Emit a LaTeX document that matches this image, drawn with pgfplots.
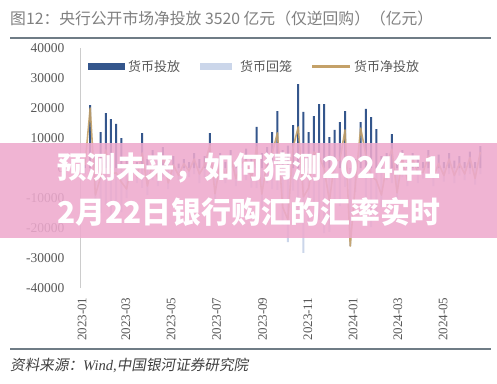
\documentclass[border=0pt]{standalone}
\usepackage{fontspec}
\usepackage{graphicx}
\setmainfont{Liberation Serif}
\newfontfamily\cjk{Noto Sans CJK SC}
\newfontfamily\cjksl{Noto Sans CJK SC}[FakeSlant=0.18]
\usepackage{pgfplots}
\usepackage{pgfplotstable}
\pgfplotsset{compat=1.18}
\definecolor{injc}{RGB}{52,86,140}
\definecolor{wdc}{RGB}{203,214,234}
\definecolor{netc}{RGB}{196,161,104}
\definecolor{rulec}{RGB}{111,124,134}
\definecolor{txtc}{RGB}{89,89,89}
\definecolor{titc}{RGB}{128,128,128}
\definecolor{bannerc}{RGB}{238,170,206}

\pgfplotstableread{
d inj wd net
4 3000 -2000 1000
11 21000 -1000 20000
18 4000 -13000 -9000
25 12000 -15000 -3000
32 18300 -12300 6000
39 16300 -18300 -2000
46 14700 -16300 -1600
53 10000 -14700 -4700
60 3000 -10000 -7000
67 5000 -3000 2000
74 2000 -5000 -3000
81 11600 -6600 5000
88 3000 -9000 -6000
95 6000 -4000 2000
102 2500 -6000 -3500
109 7000 -3000 4000
116 2000 -7000 -5000
123 4000 -3000 1000
130 1500 -4000 -2500
137 3000 -1500 1500
144 2000 -3000 -1000
151 5000 -2000 3000
158 3000 -5000 -2000
165 4000 -3000 1000
172 11600 -4000 7600
179 3000 -11600 -8600
186 5000 -3000 2000
193 2000 -5000 -3000
200 6000 -2000 4000
207 2500 -6000 -3500
214 4000 -2500 1500
221 6500 -4000 2500
228 3000 -6500 -3500
235 13700 -6700 7000
242 5000 -13700 -8700
249 7000 -5000 2000
256 12000 -7000 5000
263 19000 -7300 11700
270 6000 -19000 -13000
277 7500 -24700 -17200
284 14300 -7500 6800
291 28000 -14300 13700
298 18700 -28300 -9600
305 12000 -18700 -6700
312 17300 -12000 5300
319 21300 -17300 4000
326 21300 -21700 -400
333 10300 -21300 -11000
340 12700 -10300 2400
347 15300 -12700 2600
354 19000 -6300 12700
361 0 -26000 -26000
368 3000 -8000 -5000
375 15300 -2000 13300
382 19700 -15300 4400
389 17000 -19700 -2700
396 13000 -17000 -4000
403 4000 -13000 -9000
410 5000 -4000 1000
417 11300 -5000 6300
424 3000 -11300 -8300
431 6000 -3000 3000
438 2000 -6000 -4000
445 5000 -2000 3000
452 3500 -5000 -1500
459 2000 -3500 -1500
466 6000 -2000 4000
473 3000 -6000 -3000
480 4500 -3000 1500
487 2000 -4500 -2500
494 5000 -2000 3000
501 2500 -5000 -2500
508 4000 -2500 1500
515 2000 -4000 -2000
522 5500 -2000 3500
529 2000 -5500 -3500
536 7300 -2000 5300
}\omo

\begin{document}
\begin{tikzpicture}[x=1pt,y=1pt]
\path[use as bounding box] (0,0) rectangle (497,383);
\fill[white] (0,0) rectangle (497,383);
% title and rules
\node[anchor=west, text=titc, font=\cjk\fontsize{15.8}{18}\selectfont, inner sep=0] at (10,365) {图12：央行公开市场净投放 3520 亿元（仅逆回购）（亿元）};
\draw[rulec, line width=2pt] (10,345.3) -- (491,345.3);
\draw[rulec, line width=2pt] (10,34) -- (491,34);
\node[anchor=west, text=black!75, font=\fontsize{14.6}{16}\selectfont, inner sep=0] at (10,18) {{\cjksl 资料来源：}\textit{Wind,}{\cjksl 中国银河证券研究院}};
% legend
\fill[injc] (88,312.5) rectangle (125,319.5);
\node[anchor=west, font=\cjk\fontsize{13}{15}\selectfont, text=txtc, inner sep=0] at (128,316) {货币投放};
\fill[wdc] (200,312.5) rectangle (232,319.5);
\node[anchor=west, font=\cjk\fontsize{13}{15}\selectfont, text=txtc, inner sep=0] at (240,316) {货币回笼};
\draw[netc, line width=3pt] (312,316) -- (350,316);
\node[anchor=west, font=\cjk\fontsize{13}{15}\selectfont, text=txtc, inner sep=0] at (354,316) {货币净投放};

\begin{axis}[
  at={(80pt,95pt)}, anchor=south west,
  scale only axis, width=406pt, height=240pt,
  xmin=-2.7, xmax=543.7, ymin=-40000, ymax=40000,
  axis x line*=bottom, axis y line*=left,
  axis line style={-},
  x axis line style={draw=none},
  y axis line style={draw=black!20, line width=0.8pt},
  major tick length=0pt,
  ytick={-40000,-30000,...,40000},
  scaled y ticks=false,
  /pgf/number format/assume math mode=true,
  /pgf/number format/1000 sep={},
  yticklabel style={font=\fontsize{13.5}{16}\selectfont, text=txtc, xshift=-12pt},
  xtick={0,59,120,181,243,304,365,425,486},
  xticklabels={2023-01,2023-03,2023-05,2023-07,2023-09,2023-11,2024-01,2024-03,2024-05},
  xticklabel style={yshift=-6pt, rotate=90, anchor=east, font=\fontsize{13}{15}\selectfont, text=txtc},
  clip=false,
]
\addplot[ybar, bar width=2pt, bar shift=0pt, fill=wdc, draw=none] table[x=d, y=wd] {\omo};
\addplot[ybar, bar width=2pt, bar shift=0pt, fill=injc, draw=none] table[x=d, y=inj] {\omo};
\addplot[netc, line width=1.6pt, line join=round, opacity=0.9] table[x=d, y=net] {\omo};
\end{axis}

% banner overlay
\fill[bannerc, opacity=0.88] (0,145) rectangle (497,240);
\node[anchor=west, text=white, font=\cjk\bfseries\fontsize{30}{36}\selectfont, inner sep=0] at (57,215) {\resizebox{384pt}{\height}{预测未来，如何猜测2024年1}};
\node[anchor=west, text=white, font=\cjk\bfseries\fontsize{30}{36}\selectfont, inner sep=0] at (57,171) {\resizebox{383pt}{\height}{2月22日银行购汇的汇率实时}};
\end{tikzpicture}
\end{document}
